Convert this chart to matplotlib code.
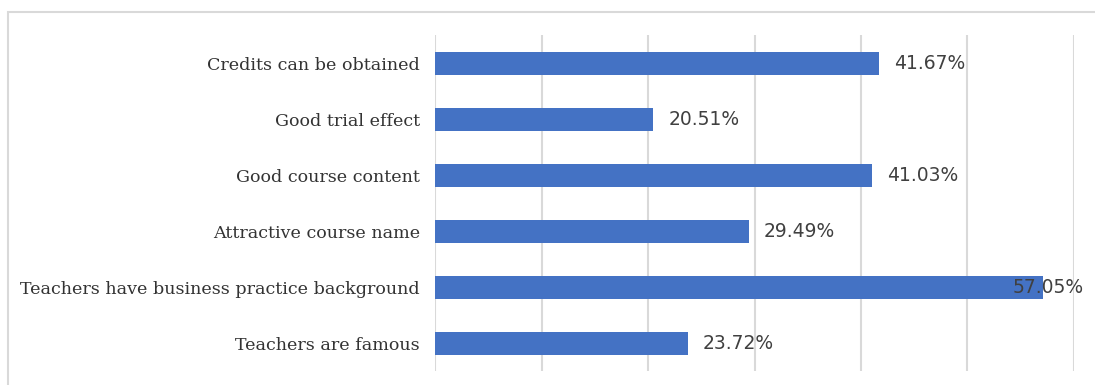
import matplotlib.pyplot as plt
from matplotlib.patches import Rectangle

# Reasons for choosing the course, share of respondents (%)
reasons = [
    "Credits can be obtained",
    "Good trial effect",
    "Good course content",
    "Attractive course name",
    "Teachers have business practice background",
    "Teachers are famous",
]
shares = [41.67, 20.51, 41.03, 29.49, 57.05, 23.72]
grid_ticks = [0, 10, 20, 30, 40, 50, 60]

bar_color = "#4472C4"

fig = plt.figure(figsize=(10.95, 3.85), dpi=100)
ax = fig.add_axes([0.3973, 0.036, 0.5835, 0.873])

# outer chart frame
fig.patches.append(Rectangle((8 / 1095, -0.1), 1.2, 1 - 12 / 385 + 0.1,
                             transform=fig.transFigure, fill=False,
                             edgecolor="#d9d9d9", linewidth=1.5))

y = list(range(len(reasons)))
ax.barh(y, shares, height=0.41, color=bar_color, zorder=3)
ax.set_ylim(len(reasons) - 0.5, -0.5)
ax.set_xlim(0, 60)

ax.set_yticks(y)
ax.set_yticklabels(reasons, family="DejaVu Serif", fontsize=12.6, color="#333333")
ax.tick_params(axis="y", length=0, pad=11)
ax.set_xticks(grid_ticks)
ax.tick_params(axis="x", length=0, labelbottom=False)
ax.grid(axis="x", color="#d9d9d9", linewidth=1.5, zorder=0)

for s in ax.spines.values():
    s.set_visible(False)

# value labels; the longest bar's label is pulled back so it stays inside the frame
for yi, v in zip(y, shares):
    ax.text(min(v + 1.4, 54.2), yi, f"{v:.2f}%", va="center", ha="left",
            family="DejaVu Sans", fontsize=13.5, color="#404040", zorder=4)

fig.savefig("out.png", dpi=100)
